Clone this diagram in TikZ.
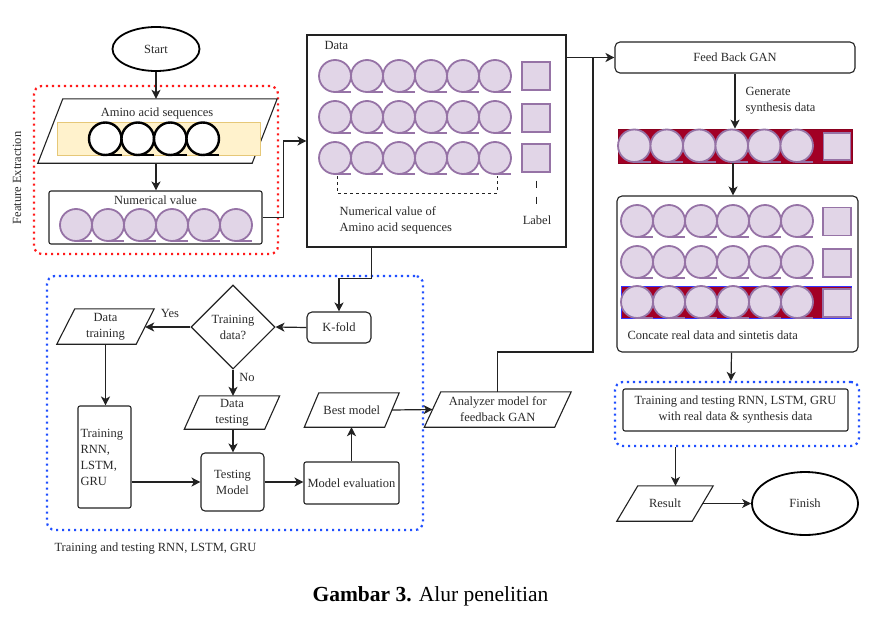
\documentclass[tikz,border=0pt]{standalone}
\usepackage{fontspec}
\setmainfont{Liberation Serif}
\usetikzlibrary{shapes.geometric,arrows.meta,calc}
\definecolor{lc}{HTML}{222222}
\definecolor{tc}{HTML}{2A2A2A}
\definecolor{pf}{HTML}{E1D5E7}
\definecolor{pd}{HTML}{9673A6}
\definecolor{yf}{HTML}{FFF2CC}
\definecolor{yd}{HTML}{E6C878}
\definecolor{crim}{HTML}{A20025}
\definecolor{dotred}{HTML}{FF1A1A}
\definecolor{dotblue}{HTML}{1F4FFF}

\newcommand\seqrow[5]{%
  \foreach \i in {1,...,#3}{%
    \pgfmathsetmacro\cx{#1+(\i-0.5)*#4}%
    \pgfmathsetmacro\rr{#4/2}%
    \draw[#5] (\cx,#2+\rr) circle[radius=\rr pt];
    \draw[#5] (\cx,#2+#4) -- ++(\rr,0);
  }}

\newcommand\pgram[7]{%
  \node[pgtxt, minimum width=#4pt, minimum height=#5pt] (#1) at (#2,#3) {#7};
  \draw[boxline] ([xshift=#6pt]#1.north west) -- ([xshift=#6pt]#1.north east)
     -- ([xshift=-#6pt]#1.south east) -- ([xshift=-#6pt]#1.south west) -- cycle;
}

\begin{document}
\begin{tikzpicture}[x=1pt,y=-1pt,
  every node/.style={font=\fontsize{12.5}{16}\selectfont, text=tc},
  boxline/.style={draw=lc, line width=1.1pt},
  box/.style={draw=lc, line width=1.1pt, rectangle, inner sep=1pt, align=center},
  pgtxt/.style={rectangle, inner sep=1pt, align=center},
  term/.style={ellipse, draw=black, line width=1.8pt, inner sep=0pt},
  seqp/.style={fill=pf, draw=pd, line width=1.8pt},
  seqk/.style={fill=white, draw=black, line width=2.4pt},
  sq/.style={rectangle, fill=pf, draw=pd, line width=1.2pt, minimum size=28pt, inner sep=0pt},
  dotbox/.style={rectangle, rounded corners=8pt, line width=2.2pt, dash pattern=on 2.2pt off 3.8pt, inner sep=0pt},
  arr/.style={draw=lc, line width=1.2pt, -{Stealth[length=9pt,width=9pt,inset=2.5pt]}},
  ln/.style={draw=lc, line width=1.2pt},
]
\useasboundingbox (0,0) rectangle (885,634);
\fill[white] (0,0) rectangle (885,634);

% ---------- containers
\node[dotbox, draw=dotred, minimum width=244pt, minimum height=168pt] (fe) at (156,170) {};
\node[dotbox, draw=dotblue, minimum width=376pt, minimum height=254pt] (tb) at (235,403) {};
\node[dotbox, draw=dotblue, minimum width=244pt, minimum height=64pt] (bb) at (737,414) {};
\node[rotate=90] (fet) at (17,178) {Feature Extraction};
\node[anchor=west] (blt) at (51,549) {Training and testing RNN, LSTM, GRU};

% ---------- feature extraction
\node[term, minimum width=87pt, minimum height=44pt] (start) at (156,49) {Start};
\pgram{aas}{157.5}{131}{214}{64}{12.5}{}
\node (aast) at (157,113) {Amino acid sequences};
\node[draw=yd, fill=yf, line width=0.8pt, minimum width=203pt, minimum height=33pt, inner sep=0pt] (yel) at (158.5,138.5) {};
\seqrow{89}{122.5}{4}{32.5}{seqk}
\node[box, rounded corners=2pt, minimum width=213pt, minimum height=53pt] (num) at (155.5,217.5) {};
\node (numt) at (155.5,200) {Numerical value};
\seqrow{60}{209}{6}{32}{seqp}

% ---------- data box
\node[box, minimum width=259pt, minimum height=212pt] (data) at (436.5,141) {};
\node[anchor=west] (datat) at (321,45) {Data};
\seqrow{319}{60}{6}{32}{seqp}
\seqrow{319}{101}{6}{32}{seqp}
\seqrow{319}{142}{6}{32}{seqp}
\node[sq] (l1) at (536,76) {};
\node[sq] (l2) at (536,118) {};
\node[sq] (l3) at (536,158) {};
\draw[ln, line width=0.9pt, dash pattern=on 3pt off 3pt] (337,176) -- (337,193) -- (497,193) -- (497,176);
\draw[ln, line width=0.9pt, dash pattern=on 7pt off 9pt] ([yshift=-8pt]l3.south) -- ++(0,23);
\node (lab) at (537,220) {Label};
\node[anchor=west, align=left] (nvt) at (336,220) {Numerical value of\\Amino acid sequences};

% ---------- right column
\node[box, rounded corners=5pt, minimum width=240pt, minimum height=31pt] (gan) at (735,57.5) {Feed Back GAN};
\node[anchor=west, align=left] (gen) at (742,101) {Generate\\synthesis data};
\node[fill=crim, draw=crim!85!black, line width=0.6pt, minimum width=234pt, minimum height=34pt, inner sep=0pt] (strip) at (735,146) {};
\seqrow{618}{129.5}{6}{32.5}{seqp}
\node[sq, minimum size=27pt] (s1) at (837,146.5) {};

\node[box, rounded corners=5pt, minimum width=241pt, minimum height=156pt] (concat) at (737.5,274) {};
\seqrow{621}{205}{6}{32}{seqp}
\node[sq] (c1) at (837,221.5) {};
\seqrow{621}{246}{6}{32}{seqp}
\node[sq] (c2) at (837,263) {};
\node[fill=crim, draw=blue!80!white, line width=0.8pt, minimum width=230pt, minimum height=32pt, inner sep=0pt] (strip2) at (736,302) {};
\seqrow{621}{286}{6}{32}{seqp}
\node[sq] (c3) at (837,303) {};
\node[anchor=west] (cct) at (624,335) {Concate real data and sintetis data};

\node[box, rounded corners=2pt, minimum width=225pt, minimum height=42pt] (tt2) at (735.5,410) {Training and testing RNN, LSTM, GRU\\with real data \& synthesis data};
\pgram{res}{665}{503.5}{75}{35}{10.5}{Result}
\node[term, minimum width=106pt, minimum height=63pt] (fin) at (805,503.5) {Finish};

% ---------- training block
\node[box, rounded corners=5pt, minimum width=64pt, minimum height=31pt] (kf) at (339,327.5) {K-fold};
\node[diamond, draw=lc, line width=1.1pt, inner sep=0pt, minimum width=84pt, minimum height=84pt, align=center] (dia) at (233,327) {Training\\data?};
\pgram{dtr}{105.5}{326.5}{79}{35}{9}{Data\\training}
\node[box, rounded corners=2pt, minimum width=53pt, minimum height=102pt, text width=48pt, align=left, inner xsep=2.5pt] (trn) at (104.5,457) {Training\\RNN,\\LSTM,\\GRU};
\pgram{dte}{232}{412.5}{80}{33}{7.5}{Data\\testing}
\node[box, rounded corners=4pt, minimum width=63pt, minimum height=58pt] (tm) at (232.5,482) {Testing\\Model};
\node[box, rounded corners=2pt, minimum width=95pt, minimum height=42pt] (me) at (351.5,483) {Model evaluation};
\pgram{bm}{351.75}{410}{80}{34}{7.25}{Best model}
\pgram{ana}{497.75}{409.5}{130}{35}{8.25}{Analyzer model for\\feedback GAN}
\node (yes) at (170,313) {Yes};
\node (no) at (247,377) {No};

% ---------- connectors
\draw[arr] (start.south) -- (start.south |- aas.north);
\draw[arr] (start.south |- aas.south) -- (start.south |- num.north);
\draw[arr] (num.east) -- ++(21,0) |- (data.west);
\draw[arr] (data.east |- gan.west) -- (gan.west);
\coordinate (j1) at (593,352);
\draw[ln] (ana.north) |- (j1) -- (j1 |- gan.west);
\draw[arr] (gan.south) -- (strip.north);
\draw[arr] ([xshift=-2pt]strip.south) -- ([xshift=-4.5pt]concat.north);
\draw[arr] ([xshift=-6pt]concat.south) -- ([xshift=-6pt]bb.north);
\draw[arr] ([xshift=10.5pt]res.north |- bb.south) -- ([xshift=10.5pt]res.north);
\draw[arr] (res.east) -- (fin.west);

\draw[arr] (data.south -| kf.east) -- ++(0,31) -| (kf.north);
\draw[arr] (kf.west) -- (dia.east);
\draw[arr] (dia.west) -- (dtr.east |- dia.west);
\draw[arr] (dtr.south) -- (dtr.south |- trn.north);
\draw[arr] (dia.south) -- (dia.south |- dte.north);
\draw[arr] (dia.south |- dte.south) -- (dia.south |- tm.north);
\draw[arr] (trn.east |- tm.west) -- (tm.west);
\draw[arr] (tm.east) -- (me.west |- tm.east);
\draw[arr] (me.north) -- (me.north |- bm.south);
\draw[arr] (bm.east) -- (ana.west);

% ---------- caption
\node[text=black, font=\fontsize{21.5}{25}\selectfont] (cap) at (430.5,596) {\textbf{Gambar 3.} Alur penelitian};
\end{tikzpicture}
\end{document}
